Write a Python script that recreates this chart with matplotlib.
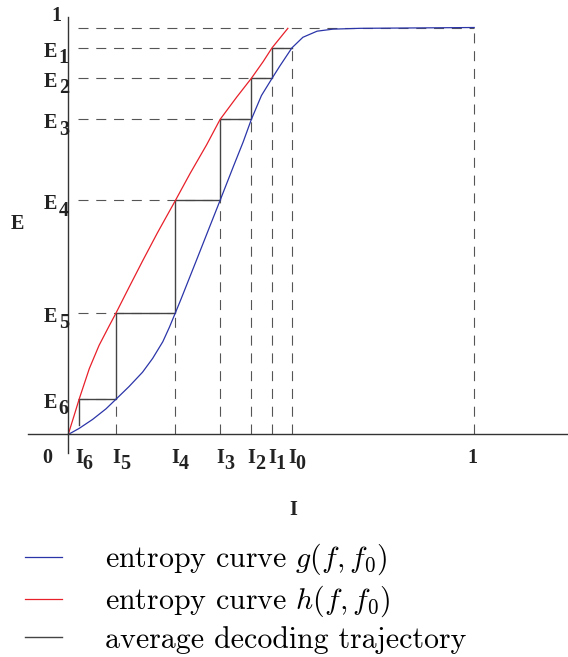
import matplotlib.pyplot as plt

plt.rcParams['mathtext.fontset'] = 'cm'

# decoding thresholds I0..I6 and entropy levels E1..E6
i_levels = [0.551, 0.502, 0.451, 0.374, 0.264, 0.118, 0.027]
e_levels = [0.950, 0.875, 0.774, 0.575, 0.299, 0.087]
e_start = 0.023  # g(I6), where the trajectory begins

i_names = ['0', '1', '2', '3', '4', '5', '6']
e_names = ['1', '2', '3', '4', '5', '6']

# entropy curve g(f, f0)
g_i = [0.0, 0.027, 0.060, 0.093, 0.118, 0.150, 0.183, 0.208, 0.233, 0.249,
       0.264, 0.278, 0.317, 0.349, 0.374, 0.407, 0.431, 0.451, 0.476, 0.502,
       0.521, 0.551, 0.578, 0.613, 0.652, 0.718, 1.0]
g_e = [0.0, 0.015, 0.037, 0.063, 0.087, 0.118, 0.153, 0.187, 0.228, 0.263,
       0.299, 0.333, 0.431, 0.512, 0.575, 0.659, 0.719, 0.774, 0.833, 0.875,
       0.905, 0.950, 0.976, 0.991, 0.996, 0.998, 1.0]

# entropy curve h(f, f0)
h_i = [0.0, 0.015, 0.027, 0.052, 0.076, 0.101, 0.118, 0.150, 0.184, 0.220,
       0.264, 0.300, 0.341, 0.374, 0.415, 0.451, 0.480, 0.502, 0.541]
h_e = [0.0, 0.048, 0.087, 0.162, 0.219, 0.267, 0.299, 0.362, 0.428, 0.496,
       0.575, 0.641, 0.712, 0.774, 0.829, 0.875, 0.916, 0.950, 0.998]

blue = '#2b35a8'
red = '#e8202a'
dark = '#444444'
dash = (0, (9, 7))

fig = plt.figure(figsize=(5.68, 6.57), dpi=100)
ax = fig.add_axes([0, 1 - 480 / 657, 1, 480 / 657])
ax.set_xlim(-0.168, 1.231)
ax.set_ylim(-0.1118, 1.0676)

for side in ['top', 'right']:
    ax.spines[side].set_visible(False)
ax.spines['left'].set_position(('data', 0))
ax.spines['bottom'].set_position(('data', 0))
ax.spines['left'].set_bounds(-0.045, 1.026)
ax.spines['bottom'].set_bounds(-0.099, 1.231)
for side in ['left', 'bottom']:
    ax.spines[side].set_color('#333333')
    ax.spines[side].set_linewidth(1.0)
ax.set_xticks([])
ax.set_yticks([])

# dashed guides
ax.plot([0.024, 1], [1, 1], color='#555555', lw=0.8, ls=dash)
ax.plot([1, 1], [0, 1], color='#555555', lw=0.8, ls=dash)
for k in range(6):
    ax.plot([0.024, i_levels[k]], [e_levels[k], e_levels[k]],
            color='#555555', lw=0.8, ls=dash)
    ax.plot([i_levels[k], i_levels[k]], [0, e_levels[k]],
            color='#555555', lw=0.8, ls=dash)

# staircase trajectory
tx = [i_levels[6]]
ty = [e_start]
for k in range(5, -1, -1):
    tx += [i_levels[k + 1], i_levels[k]]
    ty += [e_levels[k], e_levels[k]]
traj, = ax.plot(tx, ty, color=dark, lw=1.0)

g_line, = ax.plot(g_i, g_e, color=blue, lw=0.9, solid_joinstyle='round')
h_line, = ax.plot(h_i, h_e, color=red, lw=0.9, solid_joinstyle='round')

lab = dict(family='Liberation Serif', weight='bold', fontsize=14.5,
           color='#222222')

for k, name in enumerate(e_names):
    ax.text(-0.027, e_levels[k] - 0.022, 'E', ha='right', va='baseline', **lab)
    ax.text(-0.023, e_levels[k] - 0.037, name, ha='left', va='baseline', **lab)

for k, name in enumerate(i_names):
    ax.text(i_levels[k], -0.069, 'I', ha='center', va='baseline', **lab)
    ax.text(i_levels[k] + 0.009, -0.086, name, ha='left', va='baseline', **lab)

ax.text(-0.052, -0.069, '0', ha='center', va='baseline', **lab)
ax.text(0.995, -0.069, '1', ha='center', va='baseline', **lab)
ax.text(-0.030, 1.015, '1', ha='center', va='baseline', **lab)
ax.text(0.554, -0.197, 'I', ha='center', va='baseline', **lab)
ax.text(-0.126, 0.506, 'E', ha='center', va='baseline', **lab)

fig.legend([g_line, h_line, traj],
           [r'entropy curve $g(f, f_0)$', r'entropy curve $h(f, f_0)$',
            'average decoding trajectory'],
           loc='upper left', bbox_to_anchor=(25 / 568, 1 - 542 / 657),
           frameon=False, borderpad=0, borderaxespad=0,
           handlelength=1.24, handletextpad=1.44, labelspacing=0.22,
           prop=dict(family='cmr10', size=21.5))

fig.savefig('out.png', dpi=100)
